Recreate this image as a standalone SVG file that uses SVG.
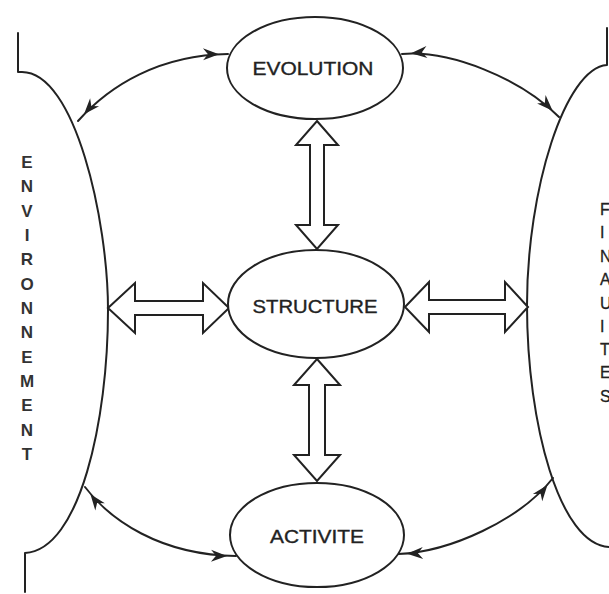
<svg xmlns="http://www.w3.org/2000/svg" width="609" height="594" viewBox="0 0 609 594">
<style>
.ln{fill:none;stroke:#222;stroke-width:2;stroke-linecap:round;stroke-linejoin:round}
.blk{fill:#fff;stroke:#222;stroke-width:2;stroke-linejoin:miter}
.ell{fill:#fff;stroke:#222;stroke-width:2}
.lbl{font-family:"Liberation Sans",Arial,sans-serif;font-size:18px;fill:#222;stroke:#222;stroke-width:0.35;text-anchor:middle}
.side{font-family:"Liberation Sans",Arial,sans-serif;font-size:17px;font-weight:bold;fill:#333;text-anchor:middle}
.side2{font-family:"Liberation Sans",Arial,sans-serif;font-size:16px;fill:#222;stroke:#222;stroke-width:0.3}
</style>
<defs>
<marker id="ah" markerUnits="userSpaceOnUse" viewBox="-32 -8 34 16" markerWidth="34" markerHeight="16" refX="0" refY="0" orient="auto-start-reverse">
<path d="M-9,0 L-25,-6 L-20,0 L-25,6 Z" fill="#222"/>
</marker>
</defs>
<rect width="609" height="594" fill="#fff"/>
<g id="environnement">
<path class="ln" d="M18,33 L18,72 L22,72 C75,72 108,220 108,310 C108,420 80,550 25,553 L25,592"/>
<text class="side"><tspan x="27" y="168">E</tspan><tspan x="27" y="192">N</tspan><tspan x="27" y="217">V</tspan><tspan x="27" y="241">I</tspan><tspan x="27" y="265">R</tspan><tspan x="27" y="290">O</tspan><tspan x="27" y="314">N</tspan><tspan x="27" y="338">N</tspan><tspan x="27" y="363">E</tspan><tspan x="27" y="387">M</tspan><tspan x="27" y="411">E</tspan><tspan x="27" y="436">N</tspan><tspan x="27" y="460">T</tspan></text>
</g>
<g id="finalites">
<path class="ln" d="M607,28 L607,65 C565,68 527,190 527,305 C527,425 560,545 609,547"/>
<text class="side2"><tspan x="600" y="215">F</tspan><tspan x="600" y="238">I</tspan><tspan x="600" y="262">N</tspan><tspan x="600" y="285">A</tspan><tspan x="600" y="309">U</tspan><tspan x="600" y="332">I</tspan><tspan x="600" y="355">T</tspan><tspan x="600" y="378">E</tspan><tspan x="600" y="402">S</tspan></text>
</g>
<g id="connectors">
<path class="ln" d="M78,121 C110,85 160,55 228,54" marker-start="url(#ah)" marker-end="url(#ah)"/>
<path class="ln" d="M402,54 C450,50 520,78 559,117" marker-start="url(#ah)" marker-end="url(#ah)"/>
<path class="ln" d="M85,487 C110,520 160,555 236,556" marker-start="url(#ah)" marker-end="url(#ah)"/>
<path class="ln" d="M398,554 C450,552 520,520 553,478" marker-start="url(#ah)" marker-end="url(#ah)"/>
<polygon class="blk" points="317,121 338,145 324,145 324,225 338,225 317,249 296,225 310,225 310,145 296,145"/>
<polygon class="blk" points="317,359 340,385 325,385 325,455 340,455 317,481 294,455 309,455 309,385 294,385"/>
<polygon class="blk" points="108,308 135,283 135,301 203,301 203,283 229,308 203,333 203,315 135,315 135,333"/>
<polygon class="blk" points="405,307 429,282 429,300 505,300 505,282 528,307 505,332 505,314 429,314 429,332"/>
</g>
<g id="evolution">
<ellipse class="ell" cx="315" cy="68" rx="88" ry="51"/>
<text class="lbl" x="313" y="75" textLength="121" lengthAdjust="spacingAndGlyphs">EVOLUTION</text>
</g>
<g id="structure">
<ellipse class="ell" cx="316" cy="304" rx="88" ry="54"/>
<text class="lbl" x="315" y="313" textLength="125" lengthAdjust="spacingAndGlyphs">STRUCTURE</text>
</g>
<g id="activite">
<ellipse class="ell" cx="317" cy="535" rx="87" ry="52"/>
<text class="lbl" x="317" y="543" textLength="94" lengthAdjust="spacingAndGlyphs">ACTIVITE</text>
</g>
</svg>
